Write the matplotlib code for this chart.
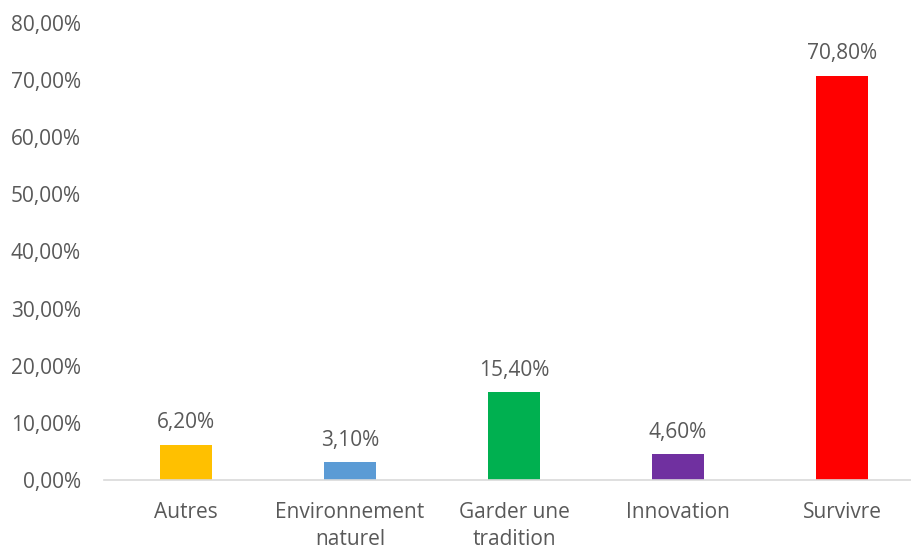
import matplotlib
matplotlib.use("Agg")
import matplotlib.pyplot as plt

categories = ["Autres", "Environnement\nnaturel", "Garder une\ntradition", "Innovation", "Survivre"]
values = [6.2, 3.1, 15.4, 4.6, 70.8]
colors = ["#FFC000", "#5B9BD5", "#00B050", "#7030A0", "#FF0000"]
yticks = [0, 10, 20, 30, 40, 50, 60, 70, 80]

plt.rcParams['font.family'] = ['Open Sans', 'DejaVu Sans']
txt = "#595959"
fs = 15

fig = plt.figure(figsize=(9.11, 5.5), dpi=100)
ax = fig.add_axes([104/911, 70/550, (924-104)/911, (480-23)/550])
x = list(range(len(categories)))
bars = ax.bar(x, values, width=0.317, color=colors)
ax.set_xlim(-0.5, len(categories) - 0.5)
ax.set_ylim(0, 80)
ax.set_yticks(yticks)
ax.set_yticklabels([f"{v:.2f}".replace(".", ",") + "%" for v in yticks], fontsize=fs, color=txt)
ax.set_xticks(x)
ax.set_xticklabels(categories, fontsize=fs, color=txt, linespacing=1.35)
ax.tick_params(axis='both', length=0)
ax.tick_params(axis='y', pad=16.5)
ax.tick_params(axis='x', pad=16)
for s in ["top", "right", "left"]:
    ax.spines[s].set_visible(False)
ax.spines["bottom"].set_color("#D9D9D9")
ax.spines["bottom"].set_linewidth(1.2)
for b, v in zip(bars, values):
    ax.annotate(f"{v:.2f}".replace(".", ",") + "%", (b.get_x() + b.get_width() / 2, v),
                xytext=(0, 8), textcoords="offset points", ha="center", va="bottom",
                fontsize=fs, color=txt)
fig.savefig("out.png", dpi=100)
